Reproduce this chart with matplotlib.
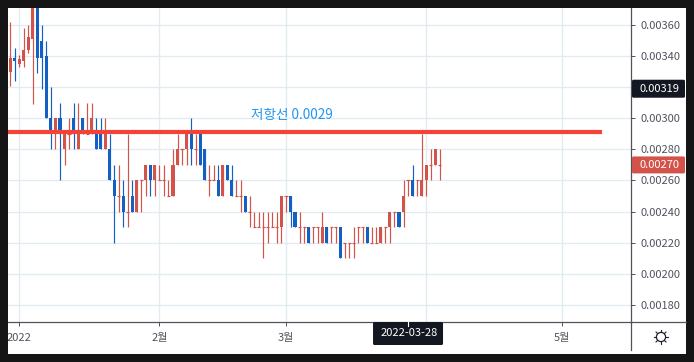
import numpy as np
import pandas as pd
import matplotlib
matplotlib.use("Agg")
import matplotlib.pyplot as plt
import matplotlib.dates as mdates
from matplotlib.patches import Rectangle, FancyBboxPatch, Circle

plt.rcParams['font.family'] = ['Noto Sans CJK KR', 'DejaVu Sans']

# daily candles from 2021-12-30, prices in units of 0.00001
start_day = "2021-12-30"
opens = [330, 339, 335, 337, 344, 351, 380, 350, 340, 300,
         290, 300, 280, 290, 300, 280, 300, 290, 290, 290,
         290, 280, 280, 260, 250, 250, 240, 250, 240, 260,
         260, 270, 260, 260, 260, 250, 250, 270, 280, 280,
         290, 280, 290, 280, 260, 260, 260, 250, 270, 260,
         250, 250, 250, 240, 230, 230, 230, 230, 230, 230,
         230, 250, 250, 240, 230, 230, 230, 230, 230, 220,
         230, 230, 230, 230, 220, 220, 220, 230, 230, 230,
         220, 220, 220, 230, 230, 240, 240, 240, 260, 260,
         260, 250, 260, 270, 270, 270]
closes = [339, 337, 338, 344, 352, 380, 339, 339, 300, 290,
          300, 290, 290, 290, 290, 290, 290, 290, 300, 280,
          280, 290, 260, 250, 250, 240, 240, 240, 260, 260,
          270, 260, 270, 260, 260, 250, 270, 280, 280, 290,
          280, 280, 270, 260, 260, 260, 250, 270, 260, 250,
          250, 250, 240, 240, 230, 230, 230, 230, 230, 230,
          250, 250, 240, 230, 230, 230, 220, 230, 230, 230,
          220, 230, 230, 210, 220, 220, 220, 230, 230, 220,
          220, 220, 230, 230, 240, 240, 230, 250, 260, 250,
          260, 260, 270, 270, 280, 270]
highs = [362, 345, 341, 358, 360, 380, 380, 360, 350, 320,
         300, 310, 290, 300, 310, 310, 300, 310, 310, 300,
         300, 300, 290, 270, 270, 260, 290, 260, 260, 260,
         270, 270, 270, 270, 270, 260, 280, 290, 280, 290,
         300, 290, 290, 280, 270, 270, 270, 270, 270, 270,
         260, 260, 250, 250, 240, 240, 240, 240, 240, 240,
         250, 250, 250, 240, 240, 230, 230, 230, 230, 240,
         230, 230, 230, 230, 220, 220, 230, 230, 230, 230,
         230, 230, 230, 230, 240, 240, 240, 260, 260, 270,
         260, 290, 270, 280, 280, 280]
lows = [321, 324, 333, 333, 342, 309, 329, 319, 300, 280,
        280, 260, 270, 280, 280, 280, 290, 290, 290, 280,
        280, 280, 260, 220, 240, 230, 230, 240, 240, 240,
        250, 250, 250, 260, 250, 250, 250, 270, 270, 270,
        270, 270, 270, 260, 250, 260, 250, 250, 260, 250,
        250, 240, 240, 230, 230, 230, 210, 220, 230, 220,
        220, 240, 230, 230, 220, 220, 220, 220, 220, 220,
        220, 220, 220, 210, 210, 210, 210, 220, 220, 220,
        220, 220, 220, 220, 220, 230, 230, 230, 250, 250,
        250, 250, 250, 260, 270, 260]

tick_prices = [0.0018, 0.0020, 0.0022, 0.0024, 0.0026, 0.0028, 0.0030, 0.0032, 0.0034, 0.0036]
month_days = ["2022-01-01", "2022-02-01", "2022-03-01", "2022-04-01", "2022-05-01"]
month_labels = ["2022", "2월", "3월", "", "5월"]

resist_price = 0.00291
resist_end = "2022-05-10"
resist_label = "저항선 0.0029"
cross_price = 0.00319
cross_date = "2022-03-28"
last_price = 0.00270

W, H = 694, 362
RED = "#d3534a"
BLUE = "#1360c4"
GRID = "#e1ebf2"
AXC = "#50535e"
DARK = "#131722"
FRAME = "#151515"

o = np.array(opens) / 1e5
c = np.array(closes) / 1e5
hi = np.array(highs) / 1e5
lo = np.array(lows) / 1e5
days = mdates.date2num(pd.date_range(start_day, periods=len(o)))
colors = np.where(c >= o, RED, BLUE)

L, R, T, B = 8, 631, 8, 322
fig = plt.figure(figsize=(W / 100, H / 100), dpi=100, facecolor="white")
ax = fig.add_axes([L / W, 1 - B / H, (R - L) / W, (B - T) / H])

jan1 = mdates.date2num(pd.Timestamp("2022-01-01"))
px_day = 4.52
ax.set_xlim(jan1 + (L - 19.3) / px_day, jan1 + (R - 19.3) / px_day)
ax.set_ylim(0.00169, 0.003709)

ax.set_axisbelow(True)
ax.grid(True, color=GRID, lw=1.0)

wicks = ax.vlines(days, lo, hi, colors=colors, lw=0.85, zorder=2)
wicks.set_snap(True)
ax.bar(days, np.abs(c - o), bottom=np.minimum(o, c), width=0.68, color=colors, lw=0, zorder=3)
flat = o == c
dashes = ax.hlines(c[flat], days[flat] - 0.34, days[flat] + 0.34, colors=colors[flat], lw=0.85, zorder=3)
dashes.set_snap(True)

ax.hlines(resist_price, ax.get_xlim()[0], mdates.date2num(pd.Timestamp(resist_end)),
          colors="#f44336", lw=3.0, zorder=4)
ax.text(jan1 + (291.5 - 19.3) / px_day, 0.00302, resist_label, color="#2196f3", fontsize=9.8,
        ha="center", va="center", zorder=5)

ax.yaxis.tick_right()
ax.set_yticks(tick_prices)
ax.set_yticklabels(["%.5f" % p for p in tick_prices])
ax.set_xticks(mdates.date2num(pd.to_datetime(month_days)))
ax.set_xticklabels(month_labels)
ax.tick_params(axis="y", length=3.2, width=0.7, color=AXC, labelcolor=AXC, labelsize=8, pad=3.5)
ax.tick_params(axis="x", length=3.2, width=0.7, color=AXC, labelcolor=AXC, labelsize=8, pad=5)
for s in ["top", "left"]:
    ax.spines[s].set_visible(False)
for s in ["right", "bottom"]:
    ax.spines[s].set_color(AXC)
    ax.spines[s].set_linewidth(0.9)

# overlay in pixel coordinates for the frame, the price tags and the icon
ov = fig.add_axes([0, 0, 1, 1], facecolor="none", zorder=10)
ov.set_xlim(0, W)
ov.set_ylim(H, 0)
ov.axis("off")


def price_y(p):
    y0, y1 = ax.get_ylim()
    return B - (p - y0) / (y1 - y0) * (B - T)


def tag(x0, x1, yc, h, text, color):
    ov.add_patch(FancyBboxPatch((x0 + 1, yc - h / 2 + 1), x1 - x0 - 2, h - 2,
                                boxstyle="round,pad=1,rounding_size=1.5", fc=color, ec="none"))
    ov.text((x0 + x1) / 2 + 1, yc, text, color="white", fontsize=8, ha="center", va="center")


ov.plot([R, 686], [B, B], color=AXC, lw=0.9)
ov.plot([R, R], [B, 350], color=AXC, lw=0.9)

tag(632, 685, price_y(cross_price), 18, "%.5f" % cross_price, DARK)
tag(632, 685, price_y(last_price), 17, "%.5f" % last_price, RED)
cross_x = L + (mdates.date2num(pd.Timestamp(cross_date)) - ax.get_xlim()[0]) * px_day
tag(cross_x - 35, cross_x + 35, 333.5, 23, cross_date, DARK)
ov.plot([cross_x, cross_x], [322, 326], color="white", lw=0.8)

# sun icon
sx, sy = 661, 337
ov.add_patch(Circle((sx, sy), 4.6, fc="white", ec="#1e222d", lw=0.9))
for a in np.arange(8) * np.pi / 4:
    ov.plot([sx + 4.8 * np.cos(a), sx + 7 * np.cos(a)], [sy + 4.8 * np.sin(a), sy + 7 * np.sin(a)],
            color="#1e222d", lw=0.8)

# dark frame
for x, y, w, h in [(0, 0, W, T), (0, 0, L, H), (0, 354, W, 8), (686, 0, 8, H)]:
    ov.add_patch(Rectangle((x, y), w, h, fc=FRAME, ec="none"))

fig.savefig("out.png", dpi=100, facecolor=fig.get_facecolor())
